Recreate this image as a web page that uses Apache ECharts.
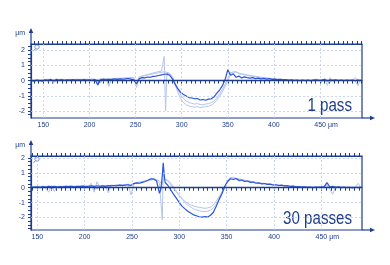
<!DOCTYPE html>
<html><head><meta charset="utf-8">
<script src="https://cdn.jsdelivr.net/npm/echarts@6/dist/echarts.min.js"></script>
<style>html,body{margin:0;padding:0;background:#fff}#c{width:390px;height:265px}</style>
</head><body><div id="c"></div>
<script>
// ---------- DATA ----------
const X_TICK_LABELS = [150, 200, 250, 300, 350, 400, 450];
const Y_TICK_LABELS = [-2, -1, 0, 1, 2];
const Y_GRID_VALUES = [-2, -1, 1, 2];
const PANEL_LABELS = ['1 pass', '30 passes'];
const TOP_X_RANGE = [136.6, 495.5];
const BOT_X_RANGE = [143.3, 493];
const TOP_Y_RANGE = [-2.47, 2.42];
const BOT_Y_RANGE = [-2.84, 2.13];

const TOP_X = [
137,140,143,146,149,152,155,158,161,164,
167,170,173,176,179,182,185,188,191,194,
197,200,203,206,209,212,215,218,221,224,
227,230,233,236,239,242,245,248,251,254,
257,260,263,266,269,272,275,278,281,282.5,
284,287,290,293,296,299,302,305,308,311,
314,317,320,323,326,329,332,335,338,341,
344,347,350,353,356,359,362,365,368,371,
374,377,380,383,386,389,392,395,398,401,
404,407,410,413,416,419,422,425,428,431,
434,437,440,443,446,449,452,455,458,461,
464,467,470,473,476,479,482,485,488,491,
494];
const TOP_MAIN = [
0.02,-0.03,0.03,0.0,-0.04,0.05,0.02,0.08,-0.02,0.07,
0.03,0.06,0.02,0.05,0.03,0.06,0.04,0.05,0.03,0.06,
0.04,0.05,0.02,0.08,-0.28,0.05,0.1,0.06,0.09,0.07,
0.11,0.08,0.12,0.09,0.11,0.14,0.1,0.05,-0.22,0.12,
0.2,0.18,0.24,0.22,0.28,0.3,0.34,0.38,0.42,0.44,
0.43,0.35,0.12,-0.25,-0.55,-0.78,-0.92,-1.02,-1.12,-1.15,
-1.2,-1.18,-1.28,-1.25,-1.3,-1.22,-1.2,-1.08,-0.85,-0.62,
-0.35,0.05,0.72,0.35,0.45,0.22,0.3,0.18,0.25,0.2,
0.16,0.2,0.13,0.17,0.12,0.15,0.1,0.13,0.08,0.1,
0.06,0.09,0.05,0.07,0.02,0.05,0.0,0.04,-0.01,0.03,
0.0,0.04,-0.02,0.03,0.05,0.0,0.04,0.08,-0.02,0.06,
0.02,0.05,0.01,0.04,0.0,0.03,0.01,0.04,0.0,0.03,
0.02];
const TOP_FAINT_A = [
0.03,0.0,0.05,-0.02,0.04,0.08,-0.05,0.12,-0.18,0.15,
0.02,0.1,0.04,0.07,0.05,0.08,0.06,0.09,0.06,0.1,
0.05,0.08,0.04,0.1,-0.1,0.18,-0.05,0.15,-0.38,0.15,
0.12,0.16,0.13,0.18,0.15,0.2,0.16,0.22,-0.45,0.2,
0.3,0.35,0.4,0.45,0.5,0.55,0.6,0.62,1.6,-2.0,
0.5,0.45,0.2,-0.3,-0.8,-1.2,-1.45,-1.6,-1.68,-1.72,
-1.75,-1.72,-1.78,-1.75,-1.72,-1.7,-1.62,-1.5,-1.3,-1.05,
-0.75,-0.4,-0.05,0.45,0.62,0.55,0.5,0.45,0.42,0.38,
0.35,0.32,0.28,0.26,0.22,0.2,0.18,0.16,0.14,0.12,
0.1,0.1,0.08,0.07,0.06,0.05,0.05,0.04,0.03,0.04,
0.02,0.03,0.02,0.04,0.1,0.05,-0.1,0.15,-0.32,0.2,
-0.05,0.05,0.02,0.04,0.01,0.03,0.02,0.05,0.0,-0.35,
0.1];
const TOP_FAINT_B = [
0.01,0.04,-0.01,0.05,0.02,0.06,0.1,0.04,0.08,-0.08,
0.1,0.05,0.08,0.06,0.09,0.06,0.1,0.07,0.09,0.07,
0.1,0.08,0.12,0.06,0.1,-0.15,0.12,0.1,0.14,0.11,
0.15,0.12,0.16,0.14,0.18,0.16,0.22,0.15,-0.1,0.25,
0.3,0.32,0.38,0.4,0.45,0.48,0.52,0.55,0.58,0.5,
0.55,0.48,0.25,-0.15,-0.6,-0.95,-1.2,-1.35,-1.45,-1.5,
-1.55,-1.52,-1.58,-1.6,-1.55,-1.52,-1.45,-1.35,-1.15,-0.9,
-0.6,-0.25,0.15,0.55,0.5,0.6,0.45,0.42,0.38,0.35,
0.3,0.28,0.25,0.22,0.2,0.18,0.16,0.14,0.12,0.11,
0.1,0.08,0.07,0.06,0.05,0.05,0.04,0.03,0.04,0.02,
0.03,0.02,0.03,0.05,0.02,0.06,0.03,0.1,0.05,-0.1,
0.08,0.03,0.05,0.02,0.04,0.01,0.03,0.02,0.2,0.05,
-0.1];

const BOT_X = [
144,147,150,153,156,159,162,165,168,171,
174,177,180,183,186,189,192,195,198,201,
204,207,210,213,216,219,222,225,228,231,
234,237,240,243,246,249,252,255,258,261,
264,267,270,273,276,279,280.5,282,283,284,
285,288,291,294,297,300,303,306,309,312,
315,318,321,324,327,330,333,336,339,342,
345,348,351,354,357,360,363,366,369,372,
375,378,381,384,387,390,393,396,399,402,
405,408,411,414,417,420,423,426,429,432,
435,438,441,444,447,450,453,456,459,462,
465,468,471,474,477,480,483,486,489,492];
const BOT_MAIN = [
0.05,0.02,0.06,0.03,0.08,0.04,0.1,0.06,0.09,0.05,
0.08,0.06,0.1,0.07,0.09,0.06,0.1,0.08,0.11,0.07,
0.1,0.12,0.08,0.13,0.1,0.12,0.09,0.14,0.12,0.15,
0.13,0.17,0.14,0.18,0.2,0.16,0.28,0.32,0.3,0.36,
0.42,0.5,0.6,0.58,0.45,-0.38,-0.1,0.8,1.68,0.9,
0.35,0.15,-0.15,-0.45,-0.72,-1.0,-1.25,-1.42,-1.58,-1.7,
-1.82,-1.88,-1.95,-1.98,-1.94,-1.97,-1.85,-1.65,-1.25,-0.8,
-0.4,0.1,0.42,0.6,0.55,0.62,0.48,0.52,0.42,0.45,
0.36,0.38,0.3,0.32,0.26,0.28,0.22,0.24,0.18,0.2,
0.15,0.17,0.12,0.14,0.08,0.11,0.06,0.08,0.04,0.06,
0.02,0.05,0.01,0.04,0.02,0.05,0.08,0.34,0.05,0.1,
0.02,0.06,0.01,0.04,0.0,0.03,-0.01,0.03,0.0,0.02];
const BOT_FAINT_A = [
0.04,0.08,0.02,0.06,0.12,-0.05,-0.3,0.15,-0.25,0.1,
0.06,0.1,0.07,0.12,0.08,0.1,0.07,0.12,0.09,0.11,
0.08,0.3,-0.3,0.4,0.05,0.14,0.1,-0.35,0.18,0.14,
0.2,0.16,0.22,0.18,0.25,-0.5,0.25,0.3,0.35,0.4,
0.45,0.48,0.52,0.55,0.5,0.3,0.2,-2.15,0.95,0.6,
0.55,0.45,0.2,-0.05,-0.3,-0.55,-0.75,-0.92,-1.05,-1.15,
-1.22,-1.28,-1.32,-1.35,-1.38,-1.36,-1.3,-1.15,-0.9,-0.6,
-0.28,0.1,0.5,0.7,0.65,0.6,0.58,0.52,0.5,0.45,
0.42,0.38,0.35,0.32,0.3,0.27,0.25,0.22,0.2,0.18,
0.16,0.15,0.13,0.12,0.1,0.1,0.08,0.07,0.06,0.05,
0.05,0.04,0.04,0.03,0.05,0.03,0.1,0.2,-0.1,-0.45,
0.05,0.03,0.05,0.02,0.04,0.01,0.03,0.02,0.3,-0.05];
const BOT_FAINT_B = [
0.06,0.03,0.07,0.04,0.09,0.05,0.12,-0.12,0.1,0.07,
0.1,0.08,0.11,0.08,0.12,0.09,0.11,0.1,0.13,0.1,
0.12,0.1,0.15,-0.1,0.14,0.12,0.16,0.13,0.17,0.15,
0.18,0.2,0.17,0.22,0.2,0.1,0.3,0.35,0.38,0.42,
0.46,0.52,0.58,0.6,0.55,0.45,0.4,0.2,0.6,0.7,
0.65,0.5,0.3,0.02,-0.25,-0.5,-0.78,-1.0,-1.18,-1.3,
-1.42,-1.5,-1.55,-1.6,-1.6,-1.58,-1.5,-1.35,-1.1,-0.75,
-0.38,0.0,0.4,0.62,0.7,0.62,0.6,0.55,0.5,0.48,
0.44,0.4,0.36,0.34,0.3,0.28,0.26,0.24,0.22,0.2,
0.18,0.16,0.15,0.13,0.12,0.11,0.1,0.08,0.08,0.06,
0.07,0.05,0.06,0.04,0.05,0.06,0.04,0.12,0.05,0.0,
0.06,0.04,0.06,0.03,0.05,0.03,0.04,0.02,0.04,0.1];

// ---------- STYLE ----------
const NAVY = '#1f3d8c', MAIN = '#2a55dc', FAINT = '#b6c4ee', GRIDC = '#bfcbee';
const FONT = '"Liberation Sans", Arial, sans-serif';
const BIGFONT = '"Liberation Sans", sans-serif';

const PANELS = [
  {x: TOP_X, main: TOP_MAIN, fa: TOP_FAINT_A, fb: TOP_FAINT_B, xr: TOP_X_RANGE, yr: TOP_Y_RANGE,
   label: PANEL_LABELS[0], grid: {left: 31, top: 44, width: 331, height: 74}, labelOff: 12.3},
  {x: BOT_X, main: BOT_MAIN, fa: BOT_FAINT_A, fb: BOT_FAINT_B, xr: BOT_X_RANGE, yr: BOT_Y_RANGE,
   label: PANEL_LABELS[1], grid: {left: 31, top: 156, width: 331, height: 74}, labelOff: 10.5}
];

function steps(a, b, s) {
  const r = [];
  for (let v = Math.ceil(a / s) * s; v <= b + 1e-9; v += s) r.push(+v.toFixed(4));
  return r;
}
const zip = (xs, ys) => xs.map((x, i) => [x, ys[i]]);

const grids = [], xAxes = [], yAxes = [], series = [], graphics = [];
PANELS.forEach((p, i) => {
  grids.push(Object.assign({show: true, borderColor: NAVY, borderWidth: 1.2, backgroundColor: 'transparent'}, p.grid));
  const xt = steps(p.xr[0], p.xr[1], 5);
  const yt = steps(p.yr[0], p.yr[1], 0.25);
  const lineS = {show: true, lineStyle: {color: NAVY, width: 1.2}};
  xAxes.push({
    gridIndex: i, type: 'value', position: 'bottom', min: p.xr[0], max: p.xr[1],
    axisLine: lineS,
    axisTick: {show: true, customValues: xt, length: 3, inside: false, lineStyle: {color: NAVY, width: 1}},
    axisLabel: {show: true, customValues: X_TICK_LABELS, fontSize: 7, color: NAVY, margin: 4, fontFamily: FONT,
      formatter: v => v === 450 ? '{pad| }450 μm' : String(v), rich: {pad: {width: 12}}},
    splitLine: {show: false}
  });
  xAxes.push({
    gridIndex: i, type: 'value', position: 'top', min: p.xr[0], max: p.xr[1],
    axisLine: lineS,
    axisTick: {show: true, customValues: xt, length: 3, inside: false, lineStyle: {color: NAVY, width: 1}},
    axisLabel: {show: false}, splitLine: {show: false}
  });
  yAxes.push({
    gridIndex: i, type: 'value', min: p.yr[0], max: p.yr[1],
    name: 'μm', nameLocation: 'end', nameGap: 7,
    nameTextStyle: {align: 'right', padding: [0, 6, 0, 0], fontSize: 7, color: NAVY, fontFamily: FONT},
    axisLine: lineS,
    axisTick: {show: true, customValues: yt, length: 3, lineStyle: {color: NAVY, width: 1}},
    axisLabel: {show: true, customValues: Y_TICK_LABELS, fontSize: 7, color: NAVY, margin: 6, fontFamily: FONT},
    splitLine: {show: false}
  });
  const xi = 2 * i;
  series.push({
    type: 'line', xAxisIndex: xi, yAxisIndex: i, data: [], z: 1, silent: true,
    markLine: {symbol: ['none', 'none'], silent: true, animation: false, label: {show: false},
      lineStyle: {color: GRIDC, type: [2, 2], width: 0.8},
      data: X_TICK_LABELS.map(v => ({xAxis: v})).concat(Y_GRID_VALUES.map(v => ({yAxis: v})))}
  });
  [p.fa, p.fb].forEach(d => series.push({
    type: 'line', xAxisIndex: xi, yAxisIndex: i, data: zip(p.x, d), showSymbol: false, z: 2,
    lineStyle: {color: FAINT, width: 1}, silent: true
  }));
  series.push({
    type: 'line', xAxisIndex: xi, yAxisIndex: i, data: [], z: 3, silent: true,
    markLine: {symbol: ['none', 'none'], silent: true, animation: false, label: {show: false},
      lineStyle: {color: NAVY, type: 'solid', width: 1.3}, data: [{yAxis: 0}]}
  });
  series.push({
    type: 'line', xAxisIndex: xi, yAxisIndex: i, data: zip(p.x, p.main), showSymbol: false, z: 4,
    lineStyle: {color: MAIN, width: 1.2}, silent: true
  });
  // decorations: axis arrows, icon, panel label
  const g = p.grid, R = g.left + g.width, B = g.top + g.height;
  graphics.push(
    {type: 'line', shape: {x1: g.left, y1: g.top, x2: g.left, y2: g.top - 13}, style: {stroke: NAVY, lineWidth: 1.2}},
    {type: 'polygon', shape: {points: [[g.left - 2.3, g.top - 11], [g.left + 2.3, g.top - 11], [g.left, g.top - 16]]}, style: {fill: NAVY}},
    {type: 'line', shape: {x1: R, y1: B, x2: R + 9, y2: B}, style: {stroke: NAVY, lineWidth: 1.2}},
    {type: 'polygon', shape: {points: [[R + 8, B - 2.3], [R + 8, B + 2.3], [R + 13, B]]}, style: {fill: NAVY}},
    {type: 'circle', shape: {cx: g.left + 6, cy: g.top + 3, r: 2.2}, style: {stroke: '#7d95dc', fill: 'none', lineWidth: 1}},
    {type: 'line', shape: {x1: g.left + 4.5, y1: g.top + 4.6, x2: g.left + 2.5, y2: g.top + 7}, style: {stroke: '#7d95dc', lineWidth: 1}},
    {type: 'text', x: R - 10, y: B - p.labelOff, scaleX: 0.865, scaleY: 1,
      style: {text: p.label, x: 0, y: 0, align: 'right', verticalAlign: 'middle',
      fontSize: 17.5, fontFamily: BIGFONT, fill: NAVY}}
  );
});

const chart = echarts.init(document.getElementById('c'), null, {renderer: 'canvas'});
chart.setOption({
  animation: false,
  backgroundColor: '#fff',
  grid: grids, xAxis: xAxes, yAxis: yAxes, series: series, graphic: graphics
});
</script></body></html>
